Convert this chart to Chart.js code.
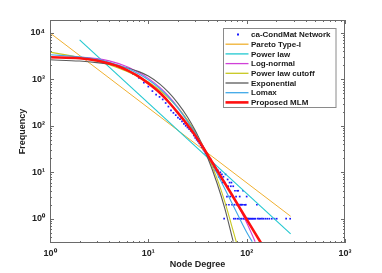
<!DOCTYPE html>
<html><head><meta charset="utf-8">
<script src="https://cdn.jsdelivr.net/npm/chart.js@4"></script>
<style>html,body{margin:0;padding:0;background:#fff}#wrap{width:382px;height:273px}</style>
</head><body><div id="wrap"><canvas id="c" width="382" height="273"></canvas></div>
<script>
// ---- Observed degree distribution (node degree k, frequency f)
const dataK = [1,2,3,4,5,6,7,8,9,10,11,12,13,14,15,16,17,18,19,20,21,22,23,24,25,26,27,28,29,30,31,32,33,34,35,36,37,38,39,40,
  41,42,43,44,45,46,47,48,49,50,51,52,53,54,55,56,57,58,59,60,61,62,63,64,65,66,67,68,69,70,71,72,73,74,75,76,77,78,79,80,
  81,82,83,84,85,86,87,88,89,90,92,93,94,95,96,97,98,100,101,103,105,107,109,112,114,117,120,123,127,130,134,138,143,148,155,162,170,180,192,202,252,277];
const dataF = [3050,2900,2600,2250,1900,1580,1300,1080,850,700,560,470,420,370,310,260,215,190,170,150,140,125,110,100,92,85,78,72,62,55,50,46,42,38,34,31,29,26,24,22,
  20,18,19,15,16,13,14,11,12,10,11,8,9,10,7,9,6,8,1,6,9,2,3,7,5,2,6,3,5,6,2,3,5,1,2,4,1,3,2,4,
  1,4,2,1,3,2,1,2,1,2,4,1,2,1,2,1,2,3,1,1,1,1,1,1,1,1,1,1,2,1,1,1,1,1,1,1,1,1,1,1,1,1];

// ---- Fitted models
const paretoK = [1, 280];
const paretoF = [10000, 1.13];
const powerK = [2, 280];
const powerF = [7100, 0.47];
const lognK = [1,2,3,4,6,8,10,13,16,20,25,30,35,40,50,70,100,122];
const lognF = [2950,3000,2800,2500,1900,1400,1050,680,440,250,130,72,41,24.5,11.5,3.4,0.82,0.32];
const plcK = [1,2,3,4,6,8,10,13,16,20,25,30,35,40,50,60,70,79];
const plcF = [3860,2960,2450,2070,1490,1120,880,590,400,245,133,74,41,23,7.3,2.3,0.74,0.3];
const expoK = [1,2,3,4,6,8,10,13,16,20,25,30,35,40,50,60,73];
const expoF = [2640,2480,2300,2120,1780,1470,1180,800,530,305,155,79,40,21,5.8,1.65,0.32];
const lomaxK = [1,2,3,4,6,8,10,13,16,20,25,30,35,40,50,70,100,114];
const lomaxF = [3400,3050,2700,2350,1750,1300,980,640,420,240,125,70,40,24,9.4,2.3,0.51,0.32];
const mlmK = [1,2,3,4,5,6,8,10,13,16,20,25,30,35,40,50,70,100,140];
const mlmF = [3000,2850,2550,2200,1900,1600,1150,820,520,330,190,105,62,38,24,11,3.4,0.97,0.30];

// ---- Axes
const xTickVals = [1,10,100,1000];
const yTickVals = [1,10,100,1000,10000];
const xRange = [1, 1000];
const yRange = [0.32, 19000];

const SUP = {'0':'\u2070','1':'\u00B9','2':'\u00B2','3':'\u00B3','4':'\u2074'};
function decLabel(v){ const e = Math.round(Math.log10(v)); return '10' + SUP[String(e)]; }
function pts(k,f){ return k.map((v,i)=>({x:v,y:f[i]})); }

const FONT = 'Liberation Sans, Arial, Helvetica, sans-serif';

function line(label, k, f, color, w, order){
  return {label, data: pts(k,f), showLine:true, pointRadius:0, borderColor:color, backgroundColor:color,
          borderWidth:w, cubicInterpolationMode:'monotone', order};
}

const datasets = [
  {label:'ca-CondMat Network', data: pts(dataK,dataF), showLine:false, pointStyle:'rect', pointRadius:1.2,
   backgroundColor:'#1a1aff', borderColor:'#1a1aff', borderWidth:0, order:8},
  line('Pareto Type-I', paretoK, paretoF, '#F0B030', 1, 7),
  line('Power law', powerK, powerF, '#22C8D0', 1.1, 6),
  line('Log-normal', lognK, lognF, '#D040D8', 1.1, 5),
  line('Power law cutoff', plcK, plcF, '#C8C820', 1.1, 4),
  line('Exponential', expoK, expoF, '#5a5a5a', 1.1, 3),
  line('Lomax', lomaxK, lomaxF, '#3FA8E8', 1.1, 2),
  line('Proposed MLM', mlmK, mlmF, '#FF1010', 2.6, 1)
];

const framePlugin = {
  id:'frame',
  afterDraw(chart){
    const ctx = chart.ctx, a = chart.chartArea, xs = chart.scales.x, ys = chart.scales.y;
    ctx.save();
    ctx.strokeStyle = '#6a6a6a'; ctx.lineWidth = 1;
    ctx.strokeRect(Math.round(a.left)+0.5, Math.round(a.top)+0.5, Math.round(a.right-a.left)-1, Math.round(a.bottom-a.top)-1);
    ctx.beginPath();
    // x ticks
    for (let d = 1; d <= 1000; d *= 10){
      for (let m = 1; m <= 9; m++){
        const v = d*m; if (v < xRange[0] || v > xRange[1]) continue;
        const px = Math.round(xs.getPixelForValue(v)) + 0.5;
        const len = m === 1 ? 4 : 2;
        ctx.moveTo(px, a.bottom); ctx.lineTo(px, a.bottom - len);
        ctx.moveTo(px, a.top); ctx.lineTo(px, a.top + len);
      }
    }
    for (let d = 0.1; d <= 10000; d *= 10){
      for (let m = 1; m <= 9; m++){
        const v = d*m; if (v < yRange[0] || v > yRange[1]) continue;
        const py = Math.round(ys.getPixelForValue(v)) + 0.5;
        const len = m === 1 ? 4 : 2;
        ctx.moveTo(a.left, py); ctx.lineTo(a.left + len, py);
        ctx.moveTo(a.right, py); ctx.lineTo(a.right - len, py);
      }
    }
    ctx.stroke();

    // legend
    const bx = a.right - 121.5, by = a.top + 8.5, bw = 112.5, bh = 79;
    ctx.fillStyle = '#fff'; ctx.fillRect(bx, by, bw, bh);
    ctx.strokeStyle = '#8a8a8a'; ctx.strokeRect(bx, by, bw, bh);
    ctx.font = 'bold 8px ' + FONT; ctx.textBaseline = 'middle'; ctx.textAlign = 'left';
    chart.data.datasets.forEach((ds, i) => {
      const y = by + 6 + i*9.7;
      if (!ds.showLine){
        ctx.fillStyle = ds.backgroundColor; ctx.fillRect(bx + 13.5, y - 1, 2, 2);
      } else {
        ctx.strokeStyle = ds.borderColor; ctx.lineWidth = ds.borderWidth > 2 ? 2.6 : 1.3;
        ctx.beginPath(); ctx.moveTo(bx + 2, y); ctx.lineTo(bx + 25, y); ctx.stroke();
      }
      ctx.fillStyle = '#1a1a1a'; ctx.fillText(ds.label, bx + 27.5, y + 0.5);
    });
    ctx.restore();
  }
};

new Chart(document.getElementById('c'), {
  type:'scatter',
  data:{datasets},
  options:{
    responsive:false, animation:false, devicePixelRatio:1,
    layout:{padding:{top:20, right:37, left:0, bottom:0}},
    plugins:{legend:{display:false}, tooltip:{enabled:false}},
    scales:{
      x:{type:'logarithmic', min:xRange[0], max:xRange[1], position:'bottom',
         grid:{display:false, drawTicks:false}, border:{display:false},
         afterBuildTicks:(s)=>{ s.ticks = xTickVals.map(v=>({value:v})); },
         afterFit:(s)=>{ s.height = 30; },
         ticks:{autoSkip:false, maxRotation:0, padding:5, color:'#222', font:{family:FONT, size:9, weight:'bold'},
                callback:(v)=>decLabel(v)},
         title:{display:true, text:'Node Degree', color:'#222', font:{family:FONT, size:9, weight:'bold'}, padding:{top:0, bottom:3}}},
      y:{type:'logarithmic', min:yRange[0], max:yRange[1], position:'left',
         grid:{display:false, drawTicks:false}, border:{display:false},
         afterBuildTicks:(s)=>{ s.ticks = yTickVals.map(v=>({value:v})); },
         afterFit:(s)=>{ s.width = 50; },
         ticks:{autoSkip:false, padding:5, color:'#222', font:{family:FONT, size:9, weight:'bold'},
                callback:(v)=>decLabel(v)},
         title:{display:true, text:'Frequency', color:'#222', font:{family:FONT, size:9, weight:'bold'}, padding:{top:17, bottom:0}}}
    }
  },
  plugins:[framePlugin]
});
</script></body></html>
